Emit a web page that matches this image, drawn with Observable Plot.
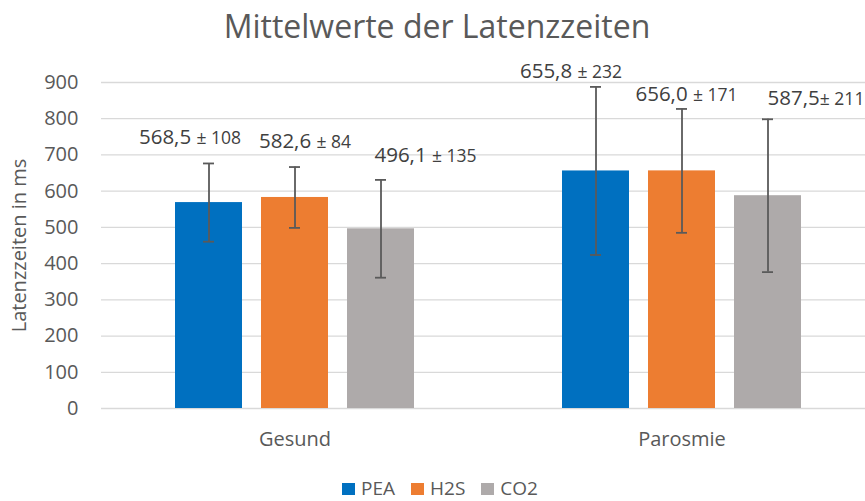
<!DOCTYPE html>
<html>
<head>
<meta charset="utf-8">
<script src="https://cdn.jsdelivr.net/npm/d3@7"></script>
<script src="https://cdn.jsdelivr.net/npm/@observablehq/plot@0.6"></script>
<style>
  html, body { margin: 0; padding: 0; background: #fff; overflow: hidden; }
  #wrap { position: relative; width: 865px; height: 501px; overflow: hidden; font-family: "Open Sans", sans-serif; }
  #chart { position: absolute; left: 0; top: 0; }
  #title { position: absolute; left: 0; width: 874px; top: 10px; text-align: center; font-size: 32px; line-height: 1; color: #595959; }
  #legend { position: absolute; left: 0; width: 880px; top: 479px; display: flex; justify-content: center; align-items: center; font-size: 19px; line-height: 1; color: #595959; }
  #legend .item { display: flex; align-items: center; margin: 0 8px; }
  #legend .sw { width: 13px; height: 12px; margin-right: 6px; }
</style>
</head>
<body>
<div id="wrap">
  <div id="chart"></div>
  <div id="title">Mittelwerte der Latenzzeiten</div>
  <div id="legend"></div>
</div>
<script>
// ---- data ----
const groups = ["Gesund", "Parosmie"];
const series = ["PEA", "H2S", "CO2"];
const peaMean = [568.5, 655.8];
const peaSd = [108, 232];
const h2sMean = [582.6, 656.0];
const h2sSd = [84, 171];
const co2Mean = [496.1, 587.5];
const co2Sd = [135, 211];
const seriesColors = ["#0070C0", "#ED7D31", "#AEAAAA"];
const yTicks = [0, 100, 200, 300, 400, 500, 600, 700, 800, 900];
const labelSep = [[" ± ", " ± "], [" ± ", " ± "], [" ± ", "± "]];
// manual label placement (px offsets from error-bar top), as in the reference
const labelDx = [[-19, -25], [10, 4.5], [44.5, 48]];
const labelDy = [[-19, -9.4], [-19.5, -8.4], [-18.4, -13.8]];

const means = [peaMean, h2sMean, co2Mean];
const sds = [peaSd, h2sSd, co2Sd];
const data = [];
series.forEach((s, si) => groups.forEach((g, gi) => data.push({
  group: g, series: s, mean: means[si][gi], sd: sds[si][gi], si, gi
})));
const fmt = v => v.toFixed(1).replace(".", ",");

const labelMarks = data.map(d => Plot.text([d], {
  fx: "group", x: "series", y: r => r.mean + r.sd,
  text: r => fmt(r.mean) + labelSep[r.si][r.gi] + r.sd,
  dx: labelDx[d.si][d.gi], dy: labelDy[d.si][d.gi],
  lineAnchor: "bottom", textAnchor: "middle",
  fontSize: 20.5, fill: "#404040", className: "vlabel"
}));

const plot = Plot.plot({
  width: 875, height: 501,
  marginLeft: 101, marginRight: 0, marginTop: 82, marginBottom: 93,
  style: { fontFamily: "Open Sans", color: "#595959", background: "transparent", maxWidth: "none", overflow: "visible" },
  fx: { domain: groups, padding: 0, label: null },
  x: { domain: series, paddingInner: 0.221, paddingOuter: 0.86, axis: null },
  y: { domain: [0, 900], label: null },
  color: { domain: series, range: seriesColors },
  marks: [
    Plot.ruleY(yTicks, { stroke: "#d9d9d9", strokeWidth: 1.3 }),
    Plot.barY(data, { fx: "group", x: "series", y: "mean", fill: "series" }),
    Plot.ruleX(data, { fx: "group", x: "series", y1: d => d.mean - d.sd, y2: d => d.mean + d.sd, stroke: "#5a5a5a", strokeWidth: 1.8 }),
    Plot.tickY(data, { fx: "group", x: "series", y: d => d.mean - d.sd, stroke: "#5a5a5a", strokeWidth: 1.8, insetLeft: 28, insetRight: 28 }),
    Plot.tickY(data, { fx: "group", x: "series", y: d => d.mean + d.sd, stroke: "#5a5a5a", strokeWidth: 1.8, insetLeft: 28, insetRight: 28 }),
    ...labelMarks,
    Plot.axisY(yTicks, { tickSize: 0, tickPadding: 23, fontSize: 20, label: "Latenzzeiten in ms", labelAnchor: "center", labelArrow: "none", labelOffset: 90 }),
    Plot.axisFx({ anchor: "bottom", tickSize: 0, tickPadding: 23.5, fontSize: 20, label: null })
  ]
});

d3.select(plot).selectAll(".vlabel text").each(function () {
  const t = this.textContent;
  const i = t.indexOf("±");
  const sel = d3.select(this);
  sel.text(null).attr("xml:space", "preserve").style("white-space", "pre");
  sel.append("tspan").text(t.slice(0, i));
  sel.append("tspan").attr("font-size", 17.5).text(t.slice(i));
});

document.getElementById("chart").appendChild(plot);

const legend = d3.select("#legend");
series.forEach((s, i) => {
  const it = legend.append("div").attr("class", "item");
  it.append("div").attr("class", "sw").style("background", seriesColors[i]);
  it.append("span").text(s);
});
</script>
</body>
</html>
